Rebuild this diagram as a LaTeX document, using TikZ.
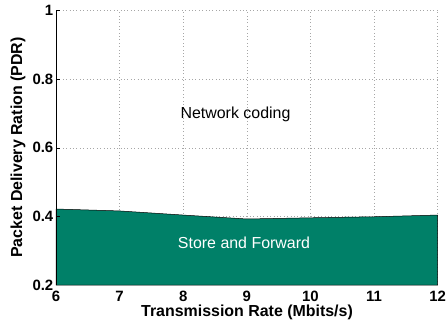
\documentclass[tikz,border=0pt]{standalone}
\usepackage{fontspec}
\setmainfont{Liberation Sans}
\definecolor{sfgreen}{RGB}{0,128,104}
\begin{document}
\begin{tikzpicture}[x=1bp,y=1bp,
  gridline/.style={gray!70,line width=0.5bp,dash pattern=on 0.8bp off 2.6bp},
  ticklab/.style={font=\fontsize{15}{15}\selectfont\bfseries,inner sep=0pt},
  axlab/.style={font=\fontsize{16}{16}\selectfont\bfseries,inner sep=0pt},
  plotlab/.style={font=\fontsize{16}{16}\selectfont,inner sep=0pt}]
\useasboundingbox (0,0) rectangle (446,324);
% mapping: x = 56 + (v-6)*63.6 ; y = 39 + (v-0.2)*342.9
% grid
\foreach \v in {7,...,12} {
  \draw[gridline] ({56+(\v-6)*63.6},39) -- ({56+(\v-6)*63.6},313.3);
}
\foreach \v in {0.4,0.6,0.8,1.0} {
  \draw[gridline] (56,{39+(\v-0.2)*342.9}) -- (437.6,{39+(\v-0.2)*342.9});
}
% area
\coordinate (p6) at (56,{39+(0.4216-0.2)*342.9});
\coordinate (p7) at ({56+63.6},{39+(0.416-0.2)*342.9});
\coordinate (p8) at ({56+2*63.6},{39+(0.404-0.2)*342.9});
\coordinate (p9) at ({56+3*63.6},{39+(0.3925-0.2)*342.9});
\coordinate (p10) at ({56+4*63.6},{39+(0.396-0.2)*342.9});
\coordinate (p11) at ({56+5*63.6},{39+(0.399-0.2)*342.9});
\coordinate (p12) at ({56+6*63.6},{39+(0.404-0.2)*342.9});
\coordinate (b12) at ({56+6*63.6},39);
\coordinate (b6) at (56,39);
\filldraw[fill=sfgreen,draw=black,line width=0.5bp] (b6) -- (p6) -- (p7) -- (p8) -- (p9) -- (p10) -- (p11) -- (p12) -- (b12) -- cycle;
% left axis
\coordinate (ytop) at (56,313.3);
\draw[black,line width=0.6bp] (b6) -- (ytop);
\foreach \v in {0.4,0.6,0.8,1.0} {
  \draw[black,line width=0.5bp] (56,{39+(\v-0.2)*342.9}) -- (59.5,{39+(\v-0.2)*342.9});
}
% tick labels
\foreach \v/\t in {0.2/0.2,0.4/0.4,0.6/0.6,0.8/0.8,1.0/1} {
  \node[ticklab,anchor=east] (yl\t) at (53.5,{39+(\v-0.2)*342.9}) {\t};
}
\foreach \v in {6,...,12} {
  \node[ticklab,anchor=base] (xl\v) at ({56+(\v-6)*63.6},22.5) {\v};
}
% axis labels
\node[axlab,anchor=base] (xlab) at (247,7.5) {Transmission Rate (Mbits/s)};
\node[axlab,rotate=90] (ylab) at (18,176.5) {Packet Delivery Ration (PDR)};
% region labels
\node[plotlab] (nc) at (235.5,210) {Network coding};
\node[plotlab,text=white] (sf) at (244,81) {Store and Forward};
\end{tikzpicture}
\end{document}
